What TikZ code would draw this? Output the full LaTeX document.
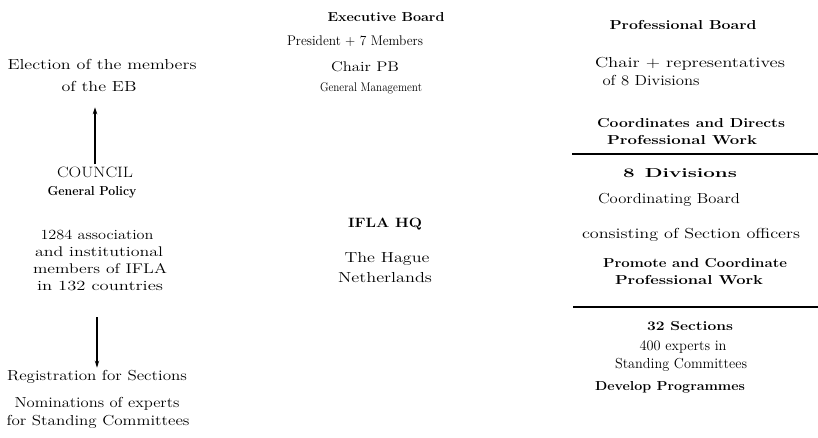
\documentclass[tikz,border=0pt]{standalone}
\usepackage{graphicx}
\usetikzlibrary{arrows.meta}
\newlength\fwlen
% #1 target width, #2 font size, #3 font switch, #4 text
\newcommand\fitx[4]{%
  \settowidth\fwlen{\fontsize{#2}{#2}\selectfont#3#4}%
  \pgfmathsetmacro\fwscale{#1/\fwlen}%
  \scalebox{\fwscale}[1]{\fontsize{#2}{#2}\selectfont#3#4}}
\newcommand\rg{\mdseries}
\newcommand\bd{\bfseries}
\begin{document}
\begin{tikzpicture}[x=1pt,y=-1pt,
  t/.style={inner sep=0pt, anchor=base},
  arr/.style={line width=1.3pt, -{Stealth[length=7pt,width=4.5pt]}},
  rule/.style={line width=2pt}]
\useasboundingbox (0,0) rectangle (818,438);
% left column
\node[t] (elect1) at (102,70)  {\fitx{189}{14.5}{\rg}{Election of the members}};
\node[t] (elect2) at (99,92)   {\fitx{75}{14.5}{\rg}{of the EB}};
\node[t] (council) at (95,178) {\fitx{76}{15}{\rg}{COUNCIL}};
\node[t] (policy) at (92,196)  {\fitx{89}{13}{\bd}{General Policy}};
\node[t] (mem1) at (97,240)    {\fitx{113}{14}{\rg}{1284 association}};
\node[t] (mem2) at (99,256)    {\fitx{128}{14}{\rg}{and institutional}};
\node[t] (mem3) at (100,273)   {\fitx{134}{14}{\rg}{members of IFLA}};
\node[t] (mem4) at (100,290)   {\fitx{126}{14}{\rg}{in 132 countries}};
\node[t] (reg) at (97,380)     {\fitx{180}{14.5}{\rg}{Registration for Sections}};
\node[t] (nom1) at (97,407)    {\fitx{165}{14.5}{\rg}{Nominations of experts}};
\node[t] (nom2) at (98,425)    {\fitx{183}{14.5}{\rg}{for Standing Committees}};
\draw[arr, shorten <=3pt, shorten >=15pt] (council.north) -- (council.north |- elect2.south);
\draw[arr, shorten <=27pt, shorten >=2pt] (mem4.south -| reg.north) -- (reg.north);
% middle column
\node[t] (eb) at (386,22)      {\fitx{117}{13}{\bd}{Executive Board}};
\node[t] (pres) at (355,46)    {\fitx{136}{14}{\rg}{President + 7 Members}};
\node[t] (chpb) at (365,72)    {\fitx{68}{14}{\rg}{Chair PB}};
\node[t] (gm) at (371,92)      {\fitx{102}{12.5}{\rg}{General Management}};
\node[t] (hq) at (385,228)     {\fitx{74}{13.5}{\bd}{IFLA HQ}};
\node[t] (hague) at (387,262)  {\fitx{85}{14.5}{\rg}{The Hague}};
\node[t] (nl) at (385,282)     {\fitx{94}{14.5}{\rg}{Netherlands}};
% right column
\node[t] (pb) at (683,30)      {\fitx{147}{13}{\bd}{Professional Board}};
\node[t] (chr) at (690,68)     {\fitx{190}{14.5}{\rg}{Chair + representatives}};
\node[t] (of8) at (651,86)     {\fitx{97}{14.5}{\rg}{of 8 Divisions}};
\node[t] (cad) at (691,128)    {\fitx{188}{13}{\bd}{Coordinates and Directs}};
\node[t] (pw1) at (682,145)    {\fitx{150}{13}{\bd}{Professional Work}};
\coordinate (r1a) at (572,154);
\coordinate (r1b) at (818,154);
\draw[rule] (r1a) -- (r1b);
\node[t] (div) at (680,178)    {\fitx{114}{13}{\bd}{8\hspace{0.5em}Divisions}};
\node[t] (cb) at (669,204)     {\fitx{142}{14.5}{\rg}{Coordinating Board}};
\node[t] (cons) at (691,238)   {\fitx{218}{14.5}{\rg}{consisting of Section officers}};
\node[t] (pac) at (695,267)    {\fitx{184}{13}{\bd}{Promote and Coordinate}};
\node[t] (pw2) at (689,284)    {\fitx{148}{13}{\bd}{Professional Work}};
\coordinate (r2a) at (573,307);
\coordinate (r2b) at (818,307);
\draw[rule] (r2a) -- (r2b);
\node[t] (sec) at (690,330)    {\fitx{86}{13}{\bd}{32 Sections}};
\node[t] (exp) at (683,350)    {\fitx{87}{14.5}{\rg}{400 experts in}};
\node[t] (sc) at (681,368)     {\fitx{132}{14.5}{\rg}{Standing Committees}};
\node[t] (dev) at (670,390)    {\fitx{150}{13}{\bd}{Develop Programmes}};
\end{tikzpicture}
\end{document}
